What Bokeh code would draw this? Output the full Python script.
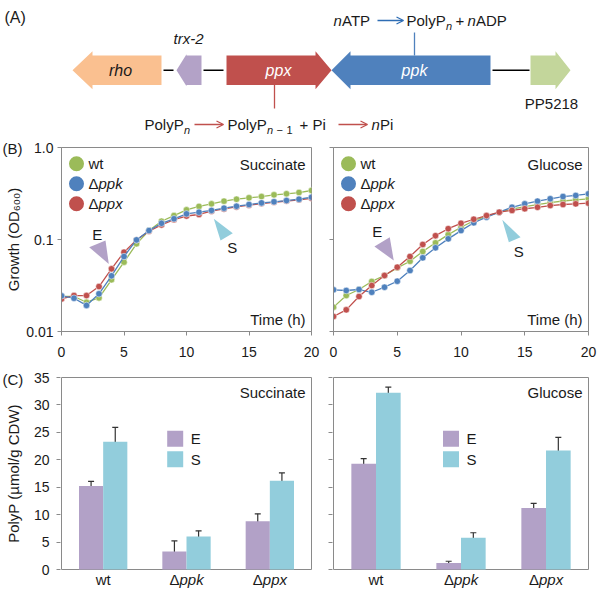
import math
from bokeh.plotting import figure
from bokeh.models import (Range1d, ColumnDataSource, Label, Arrow,
                          OpenHead, Whisker, TeeHead, FixedTicker)
from bokeh.layouts import column, row
from bokeh.embed import file_html
from bokeh.resources import INLINE

FONT = "Liberation Sans"
TXT = "#1a1a1a"
AXC = "#8a8a8a"
GREEN, BLUE, RED = "#9BBB59", "#4F81BD", "#C0504D"
PURPLE, CYAN = "#B2A1C7", "#92CDDC"

# ---------------- data ----------------
hours = list(range(21))
succinate_wt = [0.0240, 0.0240, 0.0208, 0.0232, 0.0365, 0.0567, 0.0898, 0.125, 0.158, 0.182, 0.210,
                0.229, 0.244, 0.261, 0.274, 0.284, 0.293, 0.306, 0.314, 0.324, 0.341]
succinate_ppk = [0.0244, 0.0230, 0.0192, 0.0257, 0.0403, 0.0653, 0.0990, 0.125, 0.150, 0.168, 0.190,
                 0.198, 0.207, 0.219, 0.230, 0.240, 0.250, 0.257, 0.265, 0.274, 0.288]
succinate_ppx = [0.0226, 0.0246, 0.0246, 0.0308, 0.0480, 0.0728, 0.0990, 0.123, 0.144, 0.164, 0.180,
                 0.187, 0.203, 0.215, 0.226, 0.236, 0.246, 0.254, 0.262, 0.270, 0.280]
glucose_wt = [0.0184, 0.0246, 0.0286, 0.0350, 0.0406, 0.0492, 0.0580, 0.0741, 0.0920, 0.113, 0.136,
              0.160, 0.178, 0.198, 0.214, 0.228, 0.240, 0.252, 0.262, 0.270, 0.277]
glucose_ppk = [0.0284, 0.0279, 0.0286, 0.0267, 0.0303, 0.0352, 0.0460, 0.0632, 0.0812, 0.1016, 0.125,
               0.152, 0.175, 0.198, 0.224, 0.244, 0.261, 0.277, 0.293, 0.301, 0.314]
glucose_ppx = [0.01456, 0.0172, 0.0240, 0.0316, 0.0406, 0.0500, 0.0653, 0.0883, 0.110, 0.131, 0.150,
               0.166, 0.182, 0.198, 0.207, 0.216, 0.224, 0.234, 0.240, 0.244, 0.248]
growth_ticks = [0.01, 0.1, 1.0]
growth_tick_labels = ["0.01", "0.1", "1.0"]
time_ticks = [0, 5, 10, 15, 20]

strains = ["wt", "Δppk", "Δppx"]
strain_prefix = ["", "Δ", "Δ"]
strain_gene = ["wt", "ppk", "ppx"]
succinate_E = [15.2, 3.3, 8.8]
succinate_E_err = [0.85, 1.9, 1.35]
succinate_S = [23.3, 6.0, 16.2]
succinate_S_err = [2.6, 1.05, 1.4]
glucose_E = [19.3, 1.2, 11.2]
glucose_E_err = [0.9, 0.3, 0.85]
glucose_S = [32.2, 5.8, 21.7]
glucose_S_err = [1.05, 0.9, 2.4]
polyp_ticks = [0, 5, 10, 15, 20, 25, 30, 35]

# gene map (diagram)
gene_names = ["rho", "trx-2", "ppx", "ppk", "PP5218"]
gene_start = [72, 176, 226, 331, 530]
gene_end = [161, 201, 331, 490, 570]
gene_strand = ["-", "-", "+", "-", "+"]
gene_colors = ["#FAC090", "#B3A2C7", "#C0504D", "#4F81BD", "#C3D69B"]
gene_head = [20, 10, 16, 19, 15]
gene_head_half = [19, 16, 19, 19, 19]


def add_text(p, x, y, text, size="15px", style="normal", align="left",
             baseline="middle", color=TXT, xoff=0, yoff=0, angle=0):
    p.add_layout(Label(x=x, y=y, text=text, text_font=FONT, text_font_size=size,
                       text_font_style=style, text_align=align, text_baseline=baseline,
                       text_color=color, x_offset=xoff, y_offset=yoff, angle=angle))


def blank(width, height):
    p = figure(width=width, height=height, x_range=Range1d(0, width),
               y_range=Range1d(height, 0), output_backend="svg", toolbar_location=None,
               x_axis_location=None, y_axis_location=None, min_border=0,
               frame_align=False)
    p.grid.visible = False
    p.outline_line_color = None
    return p


# ---------------- panel A ----------------
pa = blank(600, 137)
YC = 69.7
BODY = 14.7
xs, ys = [], []
for s, e, st, hl, hh in zip(gene_start, gene_end, gene_strand, gene_head, gene_head_half):
    if st == "+":
        xs.append([s, e - hl, e - hl, e, e - hl, e - hl, s])
    else:
        xs.append([e, s + hl, s + hl, s, s + hl, s + hl, e])
    ys.append([YC - BODY, YC - BODY, YC - hh, YC, YC + hh, YC + BODY, YC + BODY])
pa.patches(xs, ys, fill_color=gene_colors, line_color=None)
for a, b in [(gene_end[0] + 2, gene_start[1] - 3), (gene_end[1] + 2, gene_start[2] - 3),
             (gene_end[3] + 2, gene_start[4] - 1)]:
    pa.line([a, b], [YC, YC], line_color="black", line_width=1.5)
add_text(pa, 120, YC, "rho", size="16px", style="italic", align="center")
add_text(pa, 188, 38, "trx-2", size="15px", style="italic", align="center")
add_text(pa, 278, YC, "ppx", size="16px", style="italic", align="center", color="white")
add_text(pa, 414, YC, "ppk", size="16px", style="italic", align="center", color="white")
add_text(pa, 551, 103, "PP5218", size="15px", align="center")
add_text(pa, 4, 17, "(A)", size="16px")
pa.line([414, 414], [32, YC - BODY], line_color=BLUE, line_width=1.3)
pa.line([274, 274], [YC + BODY, 108], line_color=RED, line_width=1.3)
TY = 20
add_text(pa, 333, TY, "n", style="italic")
add_text(pa, 341.5, TY, "ATP")
pa.add_layout(Arrow(end=OpenHead(size=7, line_color="#2E6DB4", line_width=1.3),
                    x_start=377, y_start=TY, x_end=403, y_end=TY,
                    line_color="#2E6DB4", line_width=1.3))
add_text(pa, 406, TY, "PolyP")
add_text(pa, 445.5, TY + 5, "n", size="11px", style="italic")
add_text(pa, 455, TY, "+")
add_text(pa, 467, TY, "n", style="italic")
add_text(pa, 475.5, TY, "ADP")
BY = 124
add_text(pa, 144, BY, "PolyP")
add_text(pa, 183.5, BY + 5, "n", size="11px", style="italic")
pa.add_layout(Arrow(end=OpenHead(size=7, line_color=RED, line_width=1.3),
                    x_start=194, y_start=BY, x_end=223, y_end=BY,
                    line_color=RED, line_width=1.3))
add_text(pa, 227, BY, "PolyP")
add_text(pa, 266.5, BY + 5, "n", size="11px", style="italic")
add_text(pa, 276, BY + 5, "−", size="11px")
add_text(pa, 286, BY + 5, "1", size="11px")
add_text(pa, 299, BY, "+ Pi")
pa.add_layout(Arrow(end=OpenHead(size=7, line_color=RED, line_width=1.3),
                    x_start=338, y_start=BY, x_end=367, y_end=BY,
                    line_color=RED, line_width=1.3))
add_text(pa, 371, BY, "n", style="italic")
add_text(pa, 379.5, BY, "Pi")


# ---------------- helpers for panels ----------------
def geom(L, R, T, B, x0, x1, y0, y1, log):
    return dict(L=L, R=R, T=T, B=B, x0=x0, x1=x1, y0=y0, y1=y1, log=log)


def px2data(g, px, py):
    x = g["x0"] + (px - g["L"]) / (g["R"] - g["L"]) * (g["x1"] - g["x0"])
    f = (g["B"] - py) / (g["B"] - g["T"])
    if g["log"]:
        y = 10 ** (math.log10(g["y0"]) + f * (math.log10(g["y1"]) - math.log10(g["y0"])))
    else:
        y = g["y0"] + f * (g["y1"] - g["y0"])
    return x, y


def shift(g, x, y, dx, dy):
    nx = x + dx / (g["R"] - g["L"]) * (g["x1"] - g["x0"])
    f = -dy / (g["B"] - g["T"])
    if g["log"]:
        ny = 10 ** (math.log10(y) + f * (math.log10(g["y1"]) - math.log10(g["y0"])))
    else:
        ny = y + f * (g["y1"] - g["y0"])
    return nx, ny


def style_axis(ax):
    ax.axis_line_color = AXC
    ax.major_tick_line_color = AXC
    ax.minor_tick_line_color = AXC
    ax.major_tick_in = 0
    ax.major_tick_out = 4
    ax.minor_tick_in = 0
    ax.minor_tick_out = 4
    ax.major_label_text_font = FONT
    ax.major_label_text_font_size = "14px"
    ax.major_label_text_color = TXT


# ---------------- panel B ----------------
ROW_B_H = 226


def growth_panel(g, width, mbl, mbr, series, order, medium, first, tri):
    p = figure(width=width, height=ROW_B_H, x_range=Range1d(0, 20), y_range=Range1d(0.01, 1.0),
               y_axis_type="log", output_backend="svg", toolbar_location=None,
               frame_align=False,
               min_border_left=mbl, min_border_right=mbr, min_border_top=10,
               min_border_bottom=ROW_B_H - 10 - 184)
    p.grid.visible = False
    p.outline_line_color = AXC
    style_axis(p.xaxis[0])
    style_axis(p.yaxis[0])
    p.xaxis.ticker = FixedTicker(ticks=time_ticks, minor_ticks=[])
    p.xaxis.major_label_standoff = 11
    if first:
        p.yaxis.ticker = FixedTicker(ticks=growth_ticks, minor_ticks=[])
        p.yaxis.major_label_overrides = {t: l for t, l in zip(growth_ticks, growth_tick_labels)}
        p.yaxis.major_label_standoff = 4
    else:
        p.yaxis.ticker = FixedTicker(ticks=[], minor_ticks=growth_ticks)
    colors = {"wt": GREEN, "ppk": BLUE, "ppx": RED}
    for key in order:
        vals = series[key]
        p.line(hours, vals, line_color=colors[key], line_width=1.3)
        p.scatter(hours, vals, size=6.5, fill_color=colors[key], line_color="white",
                  line_width=0.5)
    lx = g["L"] + 15
    for i, key in enumerate(["wt", "ppk", "ppx"]):
        py = 163.3 + 20 * i
        x, y = px2data(g, lx, py)
        p.scatter([x], [y], size=15, fill_color=colors[key], line_color=None)
        tx, ty = px2data(g, lx + 12, py)
        if key == "wt":
            add_text(p, tx, ty, "wt")
        else:
            add_text(p, tx, ty, "Δ")
            add_text(p, tx, ty, key, style="italic", xoff=10)
    x, y = px2data(g, g["R"] - 6, 164)
    add_text(p, x, y, medium, align="right")
    x, y = px2data(g, g["R"] - 6, 319)
    add_text(p, x, y, "Time (h)", align="right")
    for (t, key, pts, lab_off, col, lab) in tri:
        ax, ay = hours[t], series[key][t]
        vx, vy = [], []
        for dx, dy in pts:
            nx, ny = shift(g, ax, ay, dx, dy)
            vx.append(nx)
            vy.append(ny)
        p.patch(vx, vy, fill_color=col, line_color=None)
        nx, ny = shift(g, ax, ay, lab_off[0], lab_off[1])
        add_text(p, nx, ny, lab, align="center")
    return p


gBL = geom(61, 311, 147, 331, 0, 20, 0.01, 1.0, True)
gBR = geom(333, 588, 147, 331, 0, 20, 0.01, 1.0, True)
pBL = growth_panel(gBL, 299, 38, 11,
                   {"wt": succinate_wt, "ppk": succinate_ppk, "ppx": succinate_ppx},
                   ["wt", "ppx", "ppk"], "Succinate", True,
                   [(4, "ppx", [(-2.7, -4.8), (-22.3, -21.6), (-6, -28.3)], (-14.3, -34.3), PURPLE, "E"),
                    (12, "ppk", [(2.3, 8.4), (21.3, 22.8), (9, 30.1)], (20.7, 36.8), CYAN, "S")])
pBR = growth_panel(gBR, 278, 11, 12,
                   {"wt": glucose_wt, "ppk": glucose_ppk, "ppx": glucose_ppx},
                   ["wt", "ppk", "ppx"], "Glucose", False,
                   [(5, "ppx", [(-3.5, -6.7), (-22.8, -20.7), (-7.5, -30)], (-20, -36), PURPLE, "E"),
                    (13, "ppk", [(3, 7.6), (21.3, 25), (9.6, 30)], (19.6, 39.3), CYAN, "S")])

sB = blank(23, ROW_B_H)
add_text(sB, 2, 11, "(B)", size="15px")
add_text(sB, 12.5, 102, "Growth (OD₆₀₀)", align="center", angle=math.pi / 2)


# ---------------- panel C ----------------
ROW_C_TOP = 137 + ROW_B_H
ROW_C_H = 594 - ROW_C_TOP


def polyp_panel(g, canvas_left, width, E, Eerr, S, Serr, medium, first):
    ppx_ = (g["R"] - g["L"]) / (g["x1"] - g["x0"])
    ppy_ = (g["B"] - g["T"]) / (g["y1"] - g["y0"])
    pad = 1.0  # px of frame beyond the box on left/right/top
    x_start = g["x0"] - pad / ppx_
    x_end = g["x1"] + pad / ppx_
    y_top = g["y1"] + pad / ppy_
    y_bot = g["y0"] - (ROW_C_TOP + ROW_C_H - g["B"]) / ppy_
    mbl = int(round(g["L"] - pad - canvas_left))
    mbr = int(round(canvas_left + width - (g["R"] + pad)))
    mbt = int(round(g["T"] - pad - ROW_C_TOP))
    p = figure(width=width, height=ROW_C_H, x_range=Range1d(x_start, x_end),
               y_range=Range1d(y_bot, y_top), output_backend="svg", toolbar_location=None,
               x_axis_location=None, frame_align=False,
               min_border_left=mbl, min_border_right=mbr, min_border_top=mbt, min_border_bottom=0)
    p.grid.visible = False
    p.outline_line_color = None
    style_axis(p.yaxis[0])
    p.yaxis.axis_line_color = None
    if first:
        p.yaxis.ticker = FixedTicker(ticks=polyp_ticks, minor_ticks=[])
        p.yaxis.major_label_standoff = 7
    else:
        p.yaxis.ticker = FixedTicker(ticks=[], minor_ticks=polyp_ticks)
    X0, X1, Y0, Y1 = g["x0"], g["x1"], g["y0"], g["y1"]
    p.multi_line([[X0, X1, X1, X0, X0]], [[Y0, Y0, Y1, Y1, Y0]], line_color=AXC, line_width=1)
    off = 0.145
    centers = [i + 0.5 for i in range(len(strains))]
    src = ColumnDataSource(dict(
        xE=[c - off for c in centers], xS=[c + off for c in centers], E=E, S=S,
        E_lo=[v - e for v, e in zip(E, Eerr)], E_hi=[v + e for v, e in zip(E, Eerr)],
        S_lo=[v - e for v, e in zip(S, Serr)], S_hi=[v + e for v, e in zip(S, Serr)]))
    p.vbar(x="xE", top="E", width=0.29, source=src, fill_color=PURPLE, line_color=None)
    p.vbar(x="xS", top="S", width=0.29, source=src, fill_color=CYAN, line_color=None)
    for base, lo, hi in [("xE", "E_lo", "E_hi"), ("xS", "S_lo", "S_hi")]:
        p.add_layout(Whisker(source=src, base=base, lower=lo, upper=hi,
                             line_color="#333333", line_width=1.2,
                             upper_head=TeeHead(size=6, line_color="#333333", line_width=1.2),
                             lower_head=TeeHead(size=6, line_color="#333333", line_width=1.2)))
    lx = g["L"] + (113.7 if first else 117.5)
    for i, (lab, col) in enumerate([("E", PURPLE), ("S", CYAN)]):
        py = 438.3 + 20.5 * i
        x, y = px2data(g, lx, py)
        p.scatter([x], [y], marker="square", size=16, fill_color=col, line_color=None)
        tx, ty = px2data(g, lx + 15.5, py)
        add_text(p, tx, ty, lab)
    x, y = px2data(g, g["R"] - 6, 392)
    add_text(p, x, y, medium, align="right")
    _, ly = px2data(g, 0, 579)
    for c, pre, gene in zip(centers, strain_prefix, strain_gene):
        if pre == "":
            add_text(p, c, ly, gene, align="center")
        else:
            add_text(p, c, ly, pre, align="right", xoff=-7)
            add_text(p, c, ly, gene, style="italic", align="left", xoff=-7)
    return p


gCL = geom(61, 311, 377, 569, 0, 3, 0, 35, False)
gCR = geom(333, 588, 377, 569, 0, 3, 0, 35, False)
pCL = polyp_panel(gCL, 23, 299, succinate_E, succinate_E_err, succinate_S, succinate_S_err,
                  "Succinate", True)
pCR = polyp_panel(gCR, 322, 278, glucose_E, glucose_E_err, glucose_S, glucose_S_err,
                  "Glucose", False)
sC = blank(23, ROW_C_H)
add_text(sC, 2, 379 - ROW_C_TOP, "(C)", size="15px")
add_text(sC, 12.5, 473 - ROW_C_TOP, "PolyP (µmol/g CDW)", align="center", angle=math.pi / 2)

layout = column(pa, row(sB, pBL, pBR), row(sC, pCL, pCR))
open("out.html", "w").write(file_html(layout, INLINE))
